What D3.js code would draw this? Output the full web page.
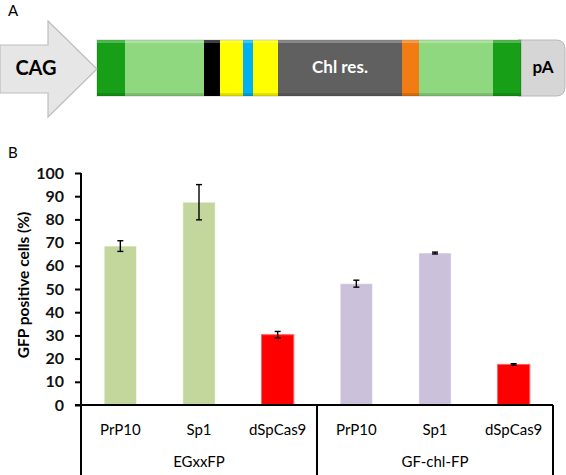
<!DOCTYPE html>
<html><head><meta charset="utf-8">
<script src="https://cdn.jsdelivr.net/npm/d3@7"></script>
<style>body{margin:0;background:#fff}svg{display:block}text{font-family:Lato,"Open Sans",sans-serif}</style>
</head><body><svg id="c" width="566" height="475"></svg>
<script>
// ---- data ----
const groups = ["EGxxFP", "GF-chl-FP"];
const categories = ["PrP10", "Sp1", "dSpCas9"];
const egxxValues = [68.5, 87.4, 30.3];
const egxxErrors = [2.3, 7.6, 1.4];
const gfchlValues = [52.3, 65.5, 17.5];
const gfchlErrors = [1.5, 0.4, 0.3];
const yTicks = [0, 10, 20, 30, 40, 50, 60, 70, 80, 90, 100];
// construct segments (panel A): label, relative length
const constructParts = ["dg1","lg1","blk","y1","cy","y2","chl","or","lg2","dg2"];
const constructLens  = [28, 79, 16, 23, 10, 25, 124, 17, 74, 28];

const svg = d3.select("#c");
const bars = [];
groups.forEach((g, gi) => {
  const vals = gi === 0 ? egxxValues : gfchlValues;
  const errs = gi === 0 ? egxxErrors : gfchlErrors;
  categories.forEach((c, ci) => bars.push({group: g, cat: c, key: g + "|" + c, v: vals[ci], e: errs[ci], gi, ci}));
});
const fillFor = d => d.ci === 2 ? "#ff0000" : (d.gi === 0 ? "#c3d69b" : "#ccc1da");

// ---------- Panel A ----------
svg.append("text").attr("x", 8).attr("y", 16).attr("font-size", 15).text("A");
const segColors = {dg1:"#17a017", lg1:"#8fd880", blk:"#000", y1:"#ffff00", cy:"#00b0f0", y2:"#ffff00", chl:"#606060", or:"#f27c14", lg2:"#8fd880", dg2:"#17a017"};
const segX = d3.scaleLinear().domain([0, d3.sum(constructLens)]).range([97, 521]);
let acc = 0;
const segs = constructParts.map((p, i) => { const s = {p, x0: acc, x1: acc + constructLens[i]}; acc += constructLens[i]; return s; });
const A = svg.append("g");
// pA end cap
A.append("path").attr("d", "M518,40 H556 Q565,40 565,49 V87 Q565,96 556,96 H518 Z")
  .attr("fill", "#d6d6d6").attr("stroke", "#b8b8b8").attr("stroke-width", 1);
A.selectAll("rect.seg").data(segs).join("rect").attr("class", "seg")
  .attr("x", d => segX(d.x0)).attr("y", 40).attr("width", d => segX(d.x1) - segX(d.x0)).attr("height", 56)
  .attr("fill", d => segColors[d.p]);
A.append("rect").attr("x", 97).attr("y", 40).attr("width", 424).attr("height", 56)
  .attr("fill", "none").attr("stroke", "rgba(0,0,0,0.18)").attr("stroke-width", 1);
A.append("rect").attr("x", 97).attr("y", 40).attr("width", 424).attr("height", 3).attr("fill", "rgba(255,255,255,0.25)");
A.append("rect").attr("x", 97).attr("y", 93).attr("width", 424).attr("height", 3).attr("fill", "rgba(0,0,0,0.12)");
// arrow
A.append("path").attr("d", "M0,45 H48 V21 L97,69 L48,117 V93 H0 Z")
  .attr("fill", "#e6e6e6").attr("stroke", "#bdbdbd").attr("stroke-width", 1.2);
A.append("text").attr("x", 36).attr("y", 70).attr("text-anchor", "middle").attr("dominant-baseline", "middle")
  .attr("font-size", 20).attr("font-weight", "bold").attr("fill", "#000").text("CAG");
const chl = segs.find(s => s.p === "chl");
A.append("text").attr("x", (segX(chl.x0) + segX(chl.x1)) / 2).attr("y", 69).attr("text-anchor", "middle")
  .attr("dominant-baseline", "middle").attr("font-size", 17).attr("font-weight", "bold").attr("fill", "#fff").text("Chl res.");
A.append("text").attr("x", 543).attr("y", 69).attr("text-anchor", "middle").attr("dominant-baseline", "middle")
  .attr("font-size", 17).attr("font-weight", "bold").attr("fill", "#000").text("pA");

// ---------- Panel B ----------
svg.append("text").attr("x", 8).attr("y", 158).attr("font-size", 15).text("B");
const x0 = 81, x1 = 553, yTop = 173, yBase = 405;
const x = d3.scaleBand().domain(bars.map(d => d.key)).range([x0, x1]).paddingInner(0.59).paddingOuter(0.295);
const y = d3.scaleLinear().domain([0, 100]).range([yBase, yTop]);

const yAxis = d3.axisLeft(y).tickValues(yTicks).tickSize(6).tickPadding(11);
const gy = svg.append("g").attr("transform", `translate(${x0},0)`).call(yAxis);
gy.select(".domain").attr("stroke", "#000").attr("stroke-width", 2).attr("d", `M0,${yTop}V${yBase}`);
gy.selectAll(".tick line").attr("stroke", "#000").attr("stroke-width", 2);
gy.selectAll(".tick text").attr("font-size", 16).attr("font-weight", "bold").attr("fill", "#111").attr("font-family", "Lato,sans-serif");

svg.append("text").attr("transform", `translate(29,285) rotate(-90)`)
  .attr("text-anchor", "middle").attr("font-size", 15.5).attr("font-weight", "bold").text("GFP positive cells (%)");

svg.append("g").selectAll("rect").data(bars).join("rect")
  .attr("x", d => x(d.key)).attr("width", x.bandwidth())
  .attr("y", d => y(d.v)).attr("height", d => y(0) - y(d.v))
  .attr("fill", fillFor).attr("stroke", d => d.ci === 2 ? "#ff6060" : "rgba(255,255,255,0.5)").attr("stroke-width", 1);

const eb = svg.append("g").attr("stroke", "#000").attr("stroke-width", 1.4);
bars.forEach(d => {
  const cx = x(d.key) + x.bandwidth() / 2;
  eb.append("line").attr("x1", cx).attr("x2", cx).attr("y1", y(d.v + d.e)).attr("y2", y(d.v - d.e));
  [d.v + d.e, d.v - d.e].forEach(v => eb.append("line").attr("x1", cx - 3).attr("x2", cx + 3).attr("y1", y(v)).attr("y2", y(v)));
});

// category axis table
const tbl = svg.append("g").attr("stroke", "#000").attr("stroke-width", 2);
tbl.append("line").attr("x1", 75).attr("x2", x1).attr("y1", yBase).attr("y2", yBase);
const sepXs = [x0, x0 + (x1 - x0) / 2, x1];
sepXs.forEach(sx => tbl.append("line").attr("x1", sx).attr("x2", sx).attr("y1", yBase).attr("y2", 475));

svg.append("g").selectAll("text").data(bars).join("text")
  .attr("x", d => x(d.key) + x.bandwidth() / 2).attr("y", 431).attr("text-anchor", "middle")
  .attr("dominant-baseline", "middle").attr("font-size", 15).text(d => d.cat);
svg.append("g").selectAll("text").data(groups).join("text")
  .attr("x", (d, i) => (sepXs[i] + sepXs[i + 1]) / 2).attr("y", 463).attr("text-anchor", "middle")
  .attr("dominant-baseline", "middle").attr("font-size", 15).text(d => d);
</script></body></html>
